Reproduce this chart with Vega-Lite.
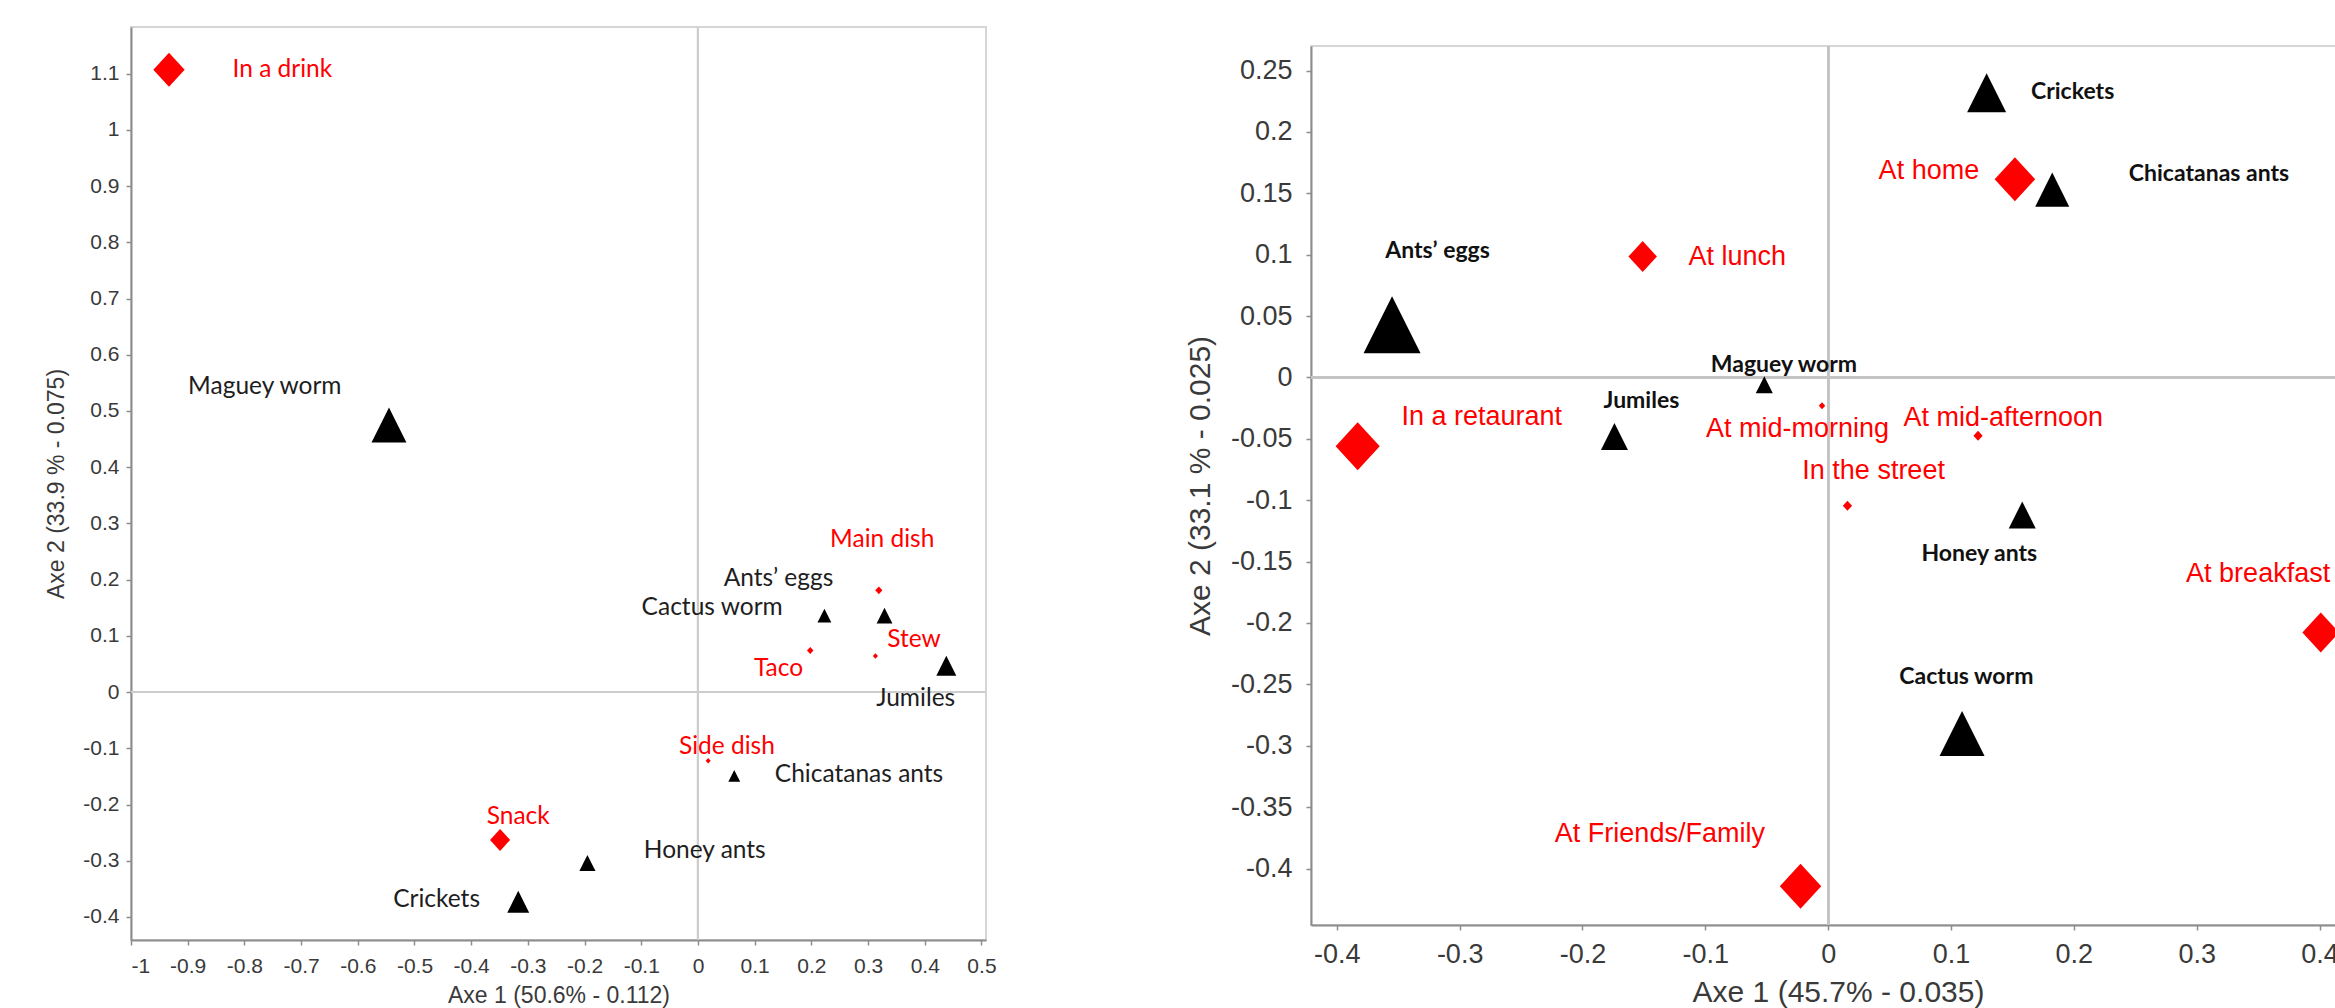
{
  "$schema": "https://vega.github.io/schema/vega-lite/v6.json",
  "background": "white",
  "padding": {"left": 44, "top": 25, "right": 0, "bottom": 0},
  "spacing": 186,
  "config": {
    "locale": {"number": {"decimal": ".", "thousands": ",", "grouping": [3], "currency": ["$", ""], "minus": "-"}},
    "view": {"stroke": "#d6d6d6", "strokeWidth": 2},
    "axis": {"grid": false, "domainColor": "#8c8c8c", "domainWidth": 2, "tickColor": "#8c8c8c", "tickWidth": 1.5, "tickSize": 5, "labelFont": "Liberation Sans", "labelColor": "#3a3a3a", "titleFont": "Liberation Sans", "titleFontWeight": "normal", "titleColor": "#3a3a3a", "format": "~g"}
  },
  "datasets": {
    "left": [
      {"name": "In a drink", "group": "context", "x": -0.933, "y": 1.107, "weight": 11.6, "lx": -0.733, "ly": 1.106},
      {"name": "Maguey worm", "group": "insect", "x": -0.545, "y": 0.475, "weight": 12.2, "lx": -0.764, "ly": 0.543},
      {"name": "Main dish", "group": "context", "x": 0.319, "y": 0.181, "weight": 0.6, "lx": 0.325, "ly": 0.27},
      {"name": "Ants’ eggs", "group": "insect", "x": 0.329, "y": 0.136, "weight": 2.5, "lx": 0.142, "ly": 0.201},
      {"name": "Cactus worm", "group": "insect", "x": 0.223, "y": 0.136, "weight": 1.9, "lx": 0.025, "ly": 0.15},
      {"name": "Stew", "group": "context", "x": 0.313, "y": 0.064, "weight": 0.3, "lx": 0.381, "ly": 0.092},
      {"name": "Taco", "group": "context", "x": 0.198, "y": 0.074, "weight": 0.5, "lx": 0.142, "ly": 0.041},
      {"name": "Jumiles", "group": "insect", "x": 0.438, "y": 0.047, "weight": 4.0, "lx": 0.384, "ly": -0.012},
      {"name": "Side dish", "group": "context", "x": 0.018, "y": -0.122, "weight": 0.3, "lx": 0.051, "ly": -0.097},
      {"name": "Chicatanas ants", "group": "insect", "x": 0.064, "y": -0.149, "weight": 1.4, "lx": 0.284, "ly": -0.148},
      {"name": "Snack", "group": "context", "x": -0.349, "y": -0.263, "weight": 4.8, "lx": -0.317, "ly": -0.222},
      {"name": "Honey ants", "group": "insect", "x": -0.195, "y": -0.304, "weight": 2.6, "lx": 0.012, "ly": -0.282},
      {"name": "Crickets", "group": "insect", "x": -0.317, "y": -0.373, "weight": 4.8, "lx": -0.461, "ly": -0.369}
    ],
    "right": [
      {"name": "Ants’ eggs", "group": "insect", "x": -0.355, "y": 0.043, "weight": 32.5, "lx": -0.318, "ly": 0.103},
      {"name": "In a retaurant", "group": "context", "x": -0.383, "y": -0.056, "weight": 23, "lx": -0.282, "ly": -0.032},
      {"name": "At lunch", "group": "context", "x": -0.151, "y": 0.0985, "weight": 9.6, "lx": -0.074, "ly": 0.098},
      {"name": "Jumiles", "group": "insect", "x": -0.174, "y": -0.048, "weight": 7.3, "lx": -0.152, "ly": -0.019},
      {"name": "Maguey worm", "group": "insect", "x": -0.052, "y": -0.006, "weight": 2.9, "lx": -0.036, "ly": 0.01},
      {"name": "At mid-morning", "group": "context", "x": -0.005, "y": -0.023, "weight": 0.5, "lx": -0.025, "ly": -0.042},
      {"name": "At mid-afternoon", "group": "context", "x": 0.122, "y": -0.0475, "weight": 1.0, "lx": 0.1425, "ly": -0.033},
      {"name": "In the street", "group": "context", "x": 0.0157, "y": -0.1045, "weight": 1.0, "lx": 0.037, "ly": -0.076},
      {"name": "Crickets", "group": "insect", "x": 0.129, "y": 0.232, "weight": 15.2, "lx": 0.199, "ly": 0.2325},
      {"name": "At home", "group": "context", "x": 0.152, "y": 0.1615, "weight": 19.4, "lx": 0.082, "ly": 0.168},
      {"name": "Chicatanas ants", "group": "insect", "x": 0.1824, "y": 0.153, "weight": 11.6, "lx": 0.31, "ly": 0.166},
      {"name": "Honey ants", "group": "insect", "x": 0.158, "y": -0.112, "weight": 7.3, "lx": 0.123, "ly": -0.144},
      {"name": "At breakfast", "group": "context", "x": 0.401, "y": -0.2077, "weight": 16, "lx": 0.35, "ly": -0.16},
      {"name": "Cactus worm", "group": "insect", "x": 0.109, "y": -0.29, "weight": 20.25, "lx": 0.1125, "ly": -0.244},
      {"name": "At Friends/Family", "group": "context", "x": -0.0225, "y": -0.4145, "weight": 20.25, "lx": -0.137, "ly": -0.372}
    ]
  },
  "hconcat": [
    {
      "width": 855,
      "height": 913,
      "data": {"name": "left"},
      "layer": [
        {
          "mark": {"type": "rule", "color": "#cdcdcd", "strokeWidth": 2},
          "encoding": {"x": {"datum": 0, "type": "quantitative", "scale": {"domain": [-1, 0.508], "nice": false, "zero": false}, "title": "Axe 1 (50.6% - 0.112)"}}
        },
        {
          "mark": {"type": "rule", "color": "#cdcdcd", "strokeWidth": 2},
          "encoding": {"y": {"datum": 0, "type": "quantitative", "scale": {"domain": [-0.441, 1.183], "nice": false, "zero": false}, "title": "Axe 2 (33.9 % - 0.075)"}}
        },
        {
          "mark": {"type": "point", "filled": true, "opacity": 1, "strokeWidth": 0},
          "encoding": {
            "x": {"field": "x", "type": "quantitative", "scale": {"domain": [-1, 0.508], "nice": false, "zero": false}, "title": "Axe 1 (50.6% - 0.112)", "axis": {"values": [-1, -0.9, -0.8, -0.7, -0.6, -0.5, -0.4, -0.3, -0.2, -0.1, 0, 0.1, 0.2, 0.3, 0.4, 0.5], "labelFontSize": 21, "titleFontSize": 23, "labelPadding": 10, "titlePadding": 8}},
            "y": {"field": "y", "type": "quantitative", "scale": {"domain": [-0.441, 1.183], "nice": false, "zero": false}, "title": "Axe 2 (33.9 % - 0.075)", "axis": {"values": [-0.4, -0.3, -0.2, -0.1, 0, 0.1, 0.2, 0.3, 0.4, 0.5, 0.6, 0.7, 0.8, 0.9, 1, 1.1], "labelFontSize": 21, "titleFontSize": 23, "labelPadding": 7, "titlePadding": 14}},
            "shape": {"field": "group", "type": "nominal", "scale": {"domain": ["insect", "context"], "range": ["M0,-1L1,1L-1,1Z", "M0,-1L0.92,0L0,1L-0.92,0Z"]}, "legend": null},
            "color": {"field": "group", "type": "nominal", "scale": {"domain": ["insect", "context"], "range": ["#000000", "#ff0000"]}, "legend": null},
            "size": {"field": "weight", "type": "quantitative", "scale": {"domain": [0, 40], "range": [0, 4000]}, "legend": null}
          }
        },
        {
          "transform": [{"filter": "datum.group === 'insect'"}],
          "mark": {"type": "text", "font": "Lato", "fontSize": 24.5, "color": "#1e1e1e", "align": "center", "baseline": "middle"},
          "encoding": {
            "x": {"field": "lx", "type": "quantitative", "scale": {"domain": [-1, 0.508], "nice": false, "zero": false}, "title": "Axe 1 (50.6% - 0.112)"},
            "y": {"field": "ly", "type": "quantitative", "scale": {"domain": [-0.441, 1.183], "nice": false, "zero": false}, "title": "Axe 2 (33.9 % - 0.075)"},
            "text": {"field": "name"}
          }
        },
        {
          "transform": [{"filter": "datum.group === 'context'"}],
          "mark": {"type": "text", "font": "Lato", "fontSize": 24.5, "color": "#ff0000", "align": "center", "baseline": "middle"},
          "encoding": {
            "x": {"field": "lx", "type": "quantitative", "scale": {"domain": [-1, 0.508], "nice": false, "zero": false}, "title": "Axe 1 (50.6% - 0.112)"},
            "y": {"field": "ly", "type": "quantitative", "scale": {"domain": [-0.441, 1.183], "nice": false, "zero": false}, "title": "Axe 2 (33.9 % - 0.075)"},
            "text": {"field": "name"}
          }
        }
      ]
    },
    {
      "spacing": 0,
      "vconcat": [
        {
          "width": 10,
          "height": 17,
          "view": {"stroke": null},
          "data": {"values": [{}]},
          "mark": {"type": "rule", "opacity": 0},
          "encoding": {}
        },
        {
          "width": 1054,
          "height": 879,
          "data": {"name": "right"},
          "layer": [
            {
              "mark": {"type": "rule", "color": "#c4c4c4", "strokeWidth": 2},
              "encoding": {"x": {"datum": 0, "type": "quantitative", "scale": {"domain": [-0.421, 0.437], "nice": false, "zero": false}, "title": "Axe 1 (45.7% - 0.035)"}}
            },
            {
              "mark": {"type": "rule", "color": "#c4c4c4", "strokeWidth": 2},
              "encoding": {"y": {"datum": 0, "type": "quantitative", "scale": {"domain": [-0.446, 0.27], "nice": false, "zero": false}, "title": "Axe 2 (33.1 % - 0.025)"}}
            },
            {
              "mark": {"type": "point", "filled": true, "opacity": 1, "strokeWidth": 0},
              "encoding": {
                "x": {"field": "x", "type": "quantitative", "scale": {"domain": [-0.421, 0.437], "nice": false, "zero": false}, "title": "Axe 1 (45.7% - 0.035)", "axis": {"values": [-0.4, -0.3, -0.2, -0.1, 0, 0.1, 0.2, 0.3, 0.4], "labelFontSize": 27, "titleFontSize": 30, "labelPadding": 11, "titlePadding": 10}},
                "y": {"field": "y", "type": "quantitative", "scale": {"domain": [-0.446, 0.27], "nice": false, "zero": false}, "title": "Axe 2 (33.1 % - 0.025)", "axis": {"values": [-0.4, -0.35, -0.3, -0.25, -0.2, -0.15, -0.1, -0.05, 0, 0.05, 0.1, 0.15, 0.2, 0.25], "labelFontSize": 27, "titleFontSize": 30, "labelPadding": 14, "titlePadding": 15}},
                "shape": {"field": "group", "type": "nominal", "scale": {"domain": ["insect", "context"], "range": ["M0,-1L1,1L-1,1Z", "M0,-1L0.92,0L0,1L-0.92,0Z"]}, "legend": null},
                "color": {"field": "group", "type": "nominal", "scale": {"domain": ["insect", "context"], "range": ["#000000", "#ff0000"]}, "legend": null},
                "size": {"field": "weight", "type": "quantitative", "scale": {"domain": [0, 40], "range": [0, 4000]}, "legend": null}
              }
            },
            {
              "transform": [{"filter": "datum.group === 'insect'"}],
              "mark": {"type": "text", "font": "Lato", "fontSize": 23, "fontWeight": "bold", "color": "#111111", "align": "center", "baseline": "middle"},
              "encoding": {
                "x": {"field": "lx", "type": "quantitative", "scale": {"domain": [-0.421, 0.437], "nice": false, "zero": false}, "title": "Axe 1 (45.7% - 0.035)"},
                "y": {"field": "ly", "type": "quantitative", "scale": {"domain": [-0.446, 0.27], "nice": false, "zero": false}, "title": "Axe 2 (33.1 % - 0.025)"},
                "text": {"field": "name"}
              }
            },
            {
              "transform": [{"filter": "datum.group === 'context'"}],
              "mark": {"type": "text", "font": "Liberation Sans", "fontSize": 27, "color": "#ff0000", "align": "center", "baseline": "middle"},
              "encoding": {
                "x": {"field": "lx", "type": "quantitative", "scale": {"domain": [-0.421, 0.437], "nice": false, "zero": false}, "title": "Axe 1 (45.7% - 0.035)"},
                "y": {"field": "ly", "type": "quantitative", "scale": {"domain": [-0.446, 0.27], "nice": false, "zero": false}, "title": "Axe 2 (33.1 % - 0.025)"},
                "text": {"field": "name"}
              }
            }
          ]
        }
      ]
    }
  ]
}
